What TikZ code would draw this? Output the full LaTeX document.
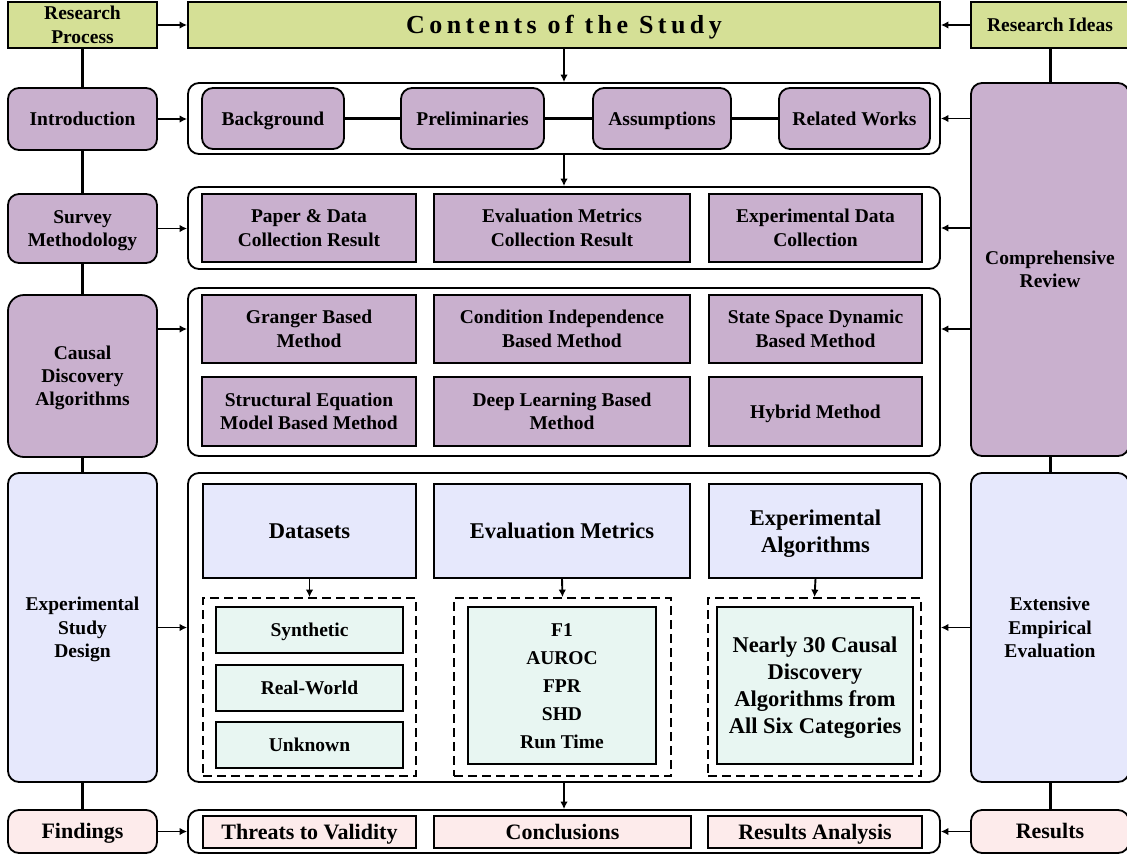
\documentclass[tikz,border=0pt]{standalone}
\usepackage{fontspec}
\setmainfont{Liberation Serif}
\usetikzlibrary{arrows.meta}
\definecolor{cgreen}{RGB}{213,224,150}
\definecolor{cpurple}{RGB}{201,176,206}
\definecolor{cblue}{RGB}{230,232,252}
\definecolor{cmint}{RGB}{232,246,242}
\definecolor{cpink}{RGB}{253,235,235}
\newcommand{\fs}[2]{\fontsize{#1}{#2}\selectfont\bfseries}
\newcommand{\tstrut}{\rule[-0.23em]{0pt}{1.13em}}
\newcommand{\bx}[7]{\node[#6, minimum width={(#4-#2)*1pt}, minimum height={(#5-#3)*1pt}] (#1) at ({(#2+#4)/2},{(#3+#5)/2}) {\tstrut#7\tstrut};}
\tikzset{
  base/.style={draw=black, line width=1.8pt, inner sep=0pt, align=center, font=\fs{19.5}{23.4}},
  gbox/.style={base, fill=cgreen},
  pbox/.style={base, fill=cpurple},
  prbox/.style={base, fill=cpurple, rounded corners=11pt},
  brbox/.style={base, fill=cblue, rounded corners=11pt},
  bbox/.style={base, fill=cblue, font=\fs{22.5}{27}},
  mbox/.style={base, fill=cmint},
  kbox/.style={base, fill=cpink, font=\fs{22}{26}},
  krbox/.style={base, fill=cpink, rounded corners=11pt, font=\fs{22}{26}},
  cont/.style={base, fill=white, rounded corners=11pt},
  dbox/.style={base, line width=1.8pt, dash pattern=on 9pt off 5pt},
  vline/.style={line width=3pt},
  hline/.style={line width=3pt},
  arr/.style={line width=1.9pt, -{Latex[length=7.5pt,width=7.5pt]}},
}
\begin{document}
\begin{tikzpicture}[x=1pt,y=-1pt]
\useasboundingbox (0,0) rectangle (1127,855);
\fill[white] (0,0) rectangle (1127,855);
% top row
\bx{RP}{8}{2}{157}{48}{gbox}{Research\\Process}
\bx{CS}{188}{2}{940}{48}{gbox, font=\fs{26}{30}}{\addfontfeature{LetterSpace=17}Contents of the Study}
\bx{RI}{971}{2}{1129}{48}{gbox}{Research Ideas}
% left column
\bx{IN}{8}{88}{157}{150}{prbox}{Introduction}
\bx{SM}{8}{194}{157}{263}{prbox}{Survey\\Methodology}
\bx{CD}{8}{295}{157}{457}{prbox, rounded corners=16pt}{Causal\\Discovery\\Algorithms}
\bx{ES}{8}{473}{157}{782}{brbox}{Experimental\\Study\\Design}
\bx{FI}{8}{810}{157}{853}{krbox}{Findings}
% right column
\bx{CR}{971}{83}{1129}{456}{prbox}{Comprehensive\\Review}
\bx{EE}{971}{473}{1129}{782}{brbox}{Extensive\\Empirical\\Evaluation}
\bx{RE}{971}{810}{1129}{853}{krbox}{Results}
% containers
\bx{C1}{188}{83}{940}{154}{cont}{}
\bx{C2}{188}{187}{940}{269}{cont}{}
\bx{C3}{188}{288}{940}{456}{cont}{}
\bx{C4}{188}{473}{940}{782}{cont}{}
\bx{C5}{188}{810}{940}{853}{cont}{}
% intro row
\bx{BG}{202}{88}{344}{149}{prbox}{Background}
\bx{PR}{401}{88}{544}{149}{prbox}{Preliminaries}
\bx{AS}{593}{88}{731}{149}{prbox}{Assumptions}
\bx{RW}{779}{88}{930}{149}{prbox}{Related Works}
% survey row
\bx{PD}{202}{194}{416}{262}{pbox}{Paper \& Data\\Collection Result}
\bx{EM}{434}{194}{690}{262}{pbox}{Evaluation Metrics\\Collection Result}
\bx{ED}{709}{194}{922}{262}{pbox}{Experimental Data\\Collection}
% causal rows
\bx{GB}{202}{295}{416}{363}{pbox}{Granger Based\\Method}
\bx{CI}{434}{295}{690}{363}{pbox}{Condition Independence\\Based Method}
\bx{SS}{709}{295}{922}{363}{pbox}{State Space Dynamic\\Based Method}
\bx{SE}{202}{377}{416}{446}{pbox}{Structural Equation\\Model Based Method}
\bx{DL}{434}{377}{690}{446}{pbox}{Deep Learning Based\\Method}
\bx{HY}{709}{377}{922}{446}{pbox}{Hybrid Method}
% experimental
\bx{DS}{203}{484}{416}{578}{bbox}{Datasets}
\bx{EV}{434}{484}{690}{578}{bbox}{Evaluation Metrics}
\bx{EA}{709}{484}{922}{578}{bbox}{Experimental\\Algorithms}
\bx{D1}{203}{598}{416}{776}{dbox}{}
\bx{D2}{454}{598}{671}{776}{dbox}{}
\bx{D3}{708}{598}{921}{776}{dbox}{}
\bx{SY}{216}{607}{403}{653}{mbox}{Synthetic}
\bx{RL}{216}{665}{403}{711}{mbox}{Real-World}
\bx{UK}{216}{722}{403}{768}{mbox}{Unknown}
\bx{MT}{468}{607}{656}{764}{mbox, font=\fs{19.5}{28}}{F1\\AUROC\\FPR\\SHD\\Run Time}
\bx{AL}{717}{607}{913}{764}{mbox, font=\fs{22.5}{27}}{Nearly 30 Causal\\Discovery\\Algorithms from\\All Six Categories}
% findings row
\bx{TV}{203}{816}{416}{848}{kbox}{Threats to Validity}
\bx{CO}{434}{816}{691}{848}{kbox}{Conclusions}
\bx{RA}{708}{816}{922}{848}{kbox}{Results Analysis}
% left vertical connectors
\draw[vline] (RP.south) -- (IN.north);
\draw[vline] (IN.south) -- (SM.north);
\draw[vline] (SM.south) -- (CD.north);
\draw[vline] (CD.south) -- (ES.north);
\draw[vline] (ES.south) -- (FI.north);
% right vertical connectors
\draw[vline] (RI.south) -- (CR.north);
\draw[vline] (CR.south) -- (EE.north);
\draw[vline] (EE.south) -- (RE.north);
% intro row links
\draw[hline] (BG.east) -- (PR.west);
\draw[hline] (PR.east) -- (AS.west);
\draw[hline] (AS.east) -- (RW.west);
% horizontal arrows
\draw[arr] (RP.east) -- (CS.west);
\draw[arr] (RI.west) -- (CS.east);
\draw[arr] (IN.east) -- (IN.east -| C1.west);
\draw[arr] (SM.east) -- (SM.east -| C2.west);
\draw[arr] (CD.east |- GB) -- (C3.west |- GB);
\draw[arr] (ES.east) -- (ES.east -| C4.west);
\draw[arr] (FI.east) -- (FI.east -| C5.west);
\draw[arr] (CR.west |- C1) -- (C1.east);
\draw[arr] (CR.west |- C2) -- (C2.east);
\draw[arr] (CR.west |- GB) -- (C3.east |- GB);
\draw[arr] (EE.west) -- (EE.west -| C4.east);
\draw[arr] (RE.west) -- (RE.west -| C5.east);
% vertical arrows
\draw[arr] (CS.south) -- (C1.north);
\draw[arr] (C1.south) -- (C2.north);
\draw[arr] (C4.south) -- (C5.north);
\draw[arr] (DS.south) -- (D1.north);
\draw[arr] (EV.south) -- (D2.north);
\draw[arr] (EA.south) -- (D3.north);
\end{tikzpicture}
\end{document}
